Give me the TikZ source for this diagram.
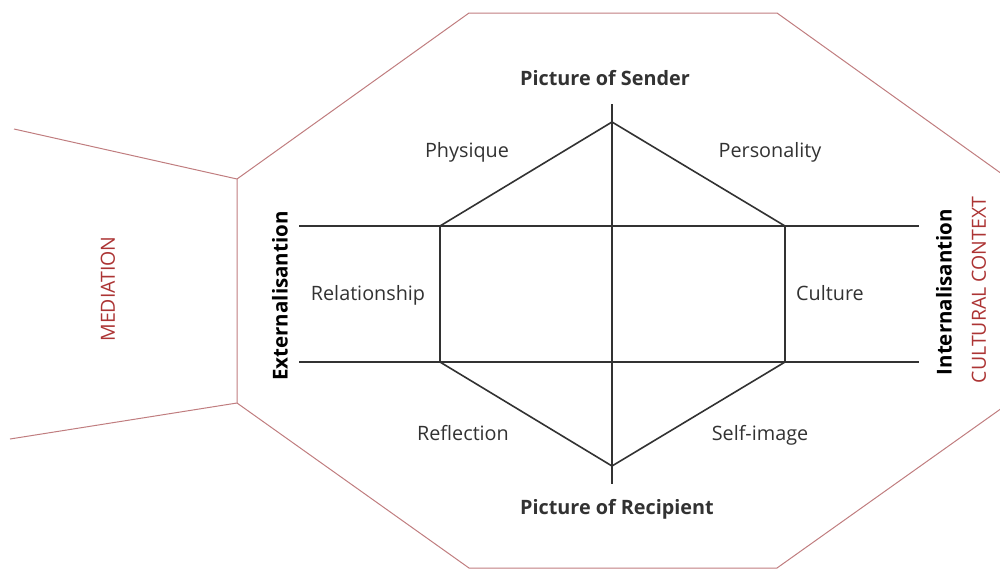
\documentclass[tikz,border=0pt]{standalone}
\usepackage{fontspec}
\setmainfont{Open Sans}

\definecolor{ctxline}{RGB}{192,125,127}
\definecolor{ctxtext}{RGB}{172,52,52}
\definecolor{axisgray}{RGB}{50,50,50}

\begin{document}
\begin{tikzpicture}[x=1pt,y=-1pt,
        frame/.style={ctxline, line width=1pt},
        model/.style={axisgray, line width=1.6pt},
        lbl/.style={font=\fontsize{19.8}{24}\selectfont, text=axisgray, anchor=base, inner sep=0pt},
        head/.style={lbl, font=\fontsize{19.8}{24}\selectfont\bfseries},
        side/.style={font=\fontsize{20.5}{24}\selectfont\bfseries, text=black, rotate=90, inner sep=0pt},
        ctx/.style={font=\fontsize{19.5}{24}\selectfont, text=ctxtext, rotate=90, inner sep=0pt}]
        \useasboundingbox (0,0) rectangle (1000,570);
        \clip (0,0) rectangle (1000,570);

        % cultural context frame
        \coordinate (o1) at (469,13);
        \coordinate (o2) at (777,13);
        \coordinate (o3) at (1009,179);
        \coordinate (o4) at (1009,403);
        \coordinate (o5) at (777,568);
        \coordinate (o6) at (469,568);
        \coordinate (o7) at (237,403);
        \coordinate (o8) at (237,179);
        \draw[frame] (o1) -- (o2) -- (o3) -- (o4) -- (o5) -- (o6) -- (o7) -- (o8) -- cycle;

        % mediation
        \coordinate (m1) at (14,129);
        \coordinate (m2) at (10,439);
        \draw[frame] (m1) -- (o8);
        \draw[frame] (m2) -- (o7);

        % axes
        \coordinate (vtop) at (612,104);
        \coordinate (vbot) at (612,484);
        \coordinate (h1l) at (299,226);
        \coordinate (h1r) at (919,226);
        \coordinate (h2l) at (299,362);
        \coordinate (h2r) at (919,362);
        \draw[model] (vtop) -- (vbot);
        \draw[model] (h1l) -- (h1r);
        \draw[model] (h2l) -- (h2r);

        % hexagon
        \coordinate (hT) at (612,122);
        \coordinate (hUL) at (440,226);
        \coordinate (hLL) at (440,362);
        \coordinate (hB) at (612,466);
        \coordinate (hLR) at (785,362);
        \coordinate (hUR) at (785,226);
        \draw[model, line join=miter] (hT) -- (hUR) -- (hLR) -- (hB) -- (hLL) -- (hUL) -- cycle;

        % labels
        \node[head] (sender) at (605,85) {Picture of Sender};
        \node[head] (recipient) at (617,514) {Picture of Recipient};
        \node[lbl] (physique) at (467,157) {Physique};
        \node[lbl] (personality) at (770,157) {Personality};
        \node[lbl] (relationship) at (368,300) {Relationship};
        \node[lbl] (culture) at (830,300) {Culture};
        \node[lbl] (reflection) at (463,440) {Reflection};
        \node[lbl] (selfimage) at (760,440) {Self-image};

        \node[side] (ext) at (280,296) {Externalisantion};
        \node[side] (int) at (944,292) {Internalisantion};
        \node[ctx] (mediation) at (108,289) {MEDIATION};
        \node[ctx] (context) at (979,290) {CULTURAL CONTEXT};
    \end{tikzpicture}
\end{document}
